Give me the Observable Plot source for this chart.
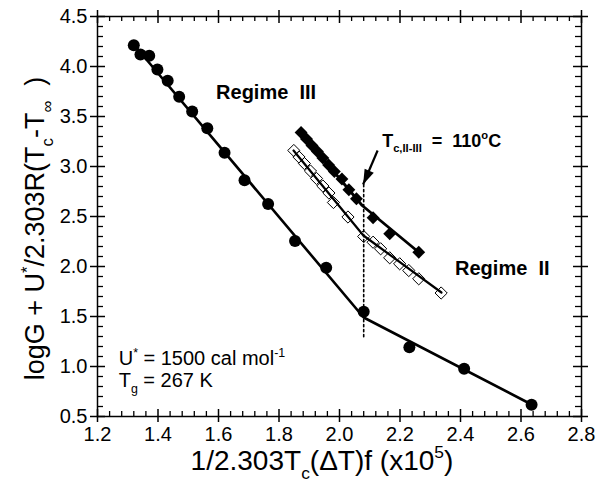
<!DOCTYPE html>
<html><head><meta charset="utf-8">
<script src="https://cdn.jsdelivr.net/npm/d3@7"></script>
<script src="https://cdn.jsdelivr.net/npm/@observablehq/plot@0.6"></script>
<style>body{margin:0;background:#fff}#chart svg{display:block}</style>
</head><body><div id="chart"></div>
<script>
// ---- data ----
const circleX = [1.320,1.342,1.371,1.398,1.432,1.470,1.513,1.563,1.620,1.686,1.764,1.853,1.956,2.080,2.231,2.412,2.635];
const circleY = [4.213,4.120,4.107,3.970,3.857,3.697,3.550,3.383,3.137,2.863,2.625,2.255,1.987,1.547,1.193,0.977,0.617];
const circleFitX = [1.320,2.080,2.635];
const circleFitY = [4.220,1.490,0.620];

const filledX = [1.873,1.891,1.909,1.927,1.945,1.964,1.983,2.008,2.031,2.056,2.111,2.166,2.262];
const filledY = [3.340,3.275,3.210,3.150,3.085,3.015,2.950,2.875,2.767,2.677,2.487,2.327,2.143];
const filledFitX = [1.873,2.075,2.261];
const filledFitY = [3.340,2.610,2.145];

const openX = [1.849,1.866,1.884,1.904,1.924,1.945,1.965,1.980,2.028,2.080,2.111,2.136,2.166,2.199,2.229,2.262,2.336];
const openY = [3.160,3.095,3.030,2.955,2.880,2.805,2.735,2.640,2.495,2.300,2.243,2.177,2.087,2.027,1.960,1.877,1.735];
const openFitX = [1.848,2.079,2.337];
const openFitY = [3.160,2.310,1.740];

const transitionX = [2.08, 2.08];
const transitionY = [2.82, 1.29];
const arrowFrom = [2.126, 3.16];
const arrowTo = [2.078, 2.82];

const xTicks = [1.2,1.4,1.6,1.8,2.0,2.2,2.4,2.6,2.8];
const xTickLabels = ["1.2","1.4","1.6","1.8","2.0","2.2","2.4","2.6","2.8"];
const yTicks = [0.5,1.0,1.5,2.0,2.5,3.0,3.5,4.0,4.5];
const yTickLabels = ["0.5","1.0","1.5","2.0","2.5","3.0","3.5","4.0","4.5"];
const xMinor = d3.range(1.2, 2.8001, 0.04).filter(v => Math.abs(Math.round(v*5) - v*5) > 1e-6);
const yMinor = d3.range(0.5, 4.5001, 0.1).filter(v => Math.abs(Math.round(v*2) - v*2) > 1e-6);

// text annotations (placeholders replaced by rich text below)
const labels = [
  {key:"XL", x:1.942, y:-0.03, size:28, weight:"normal", anchor:"middle", rotate:0,
   parts:[["1/2.303T",""],["c","sub"],["(\u0394T)f (x10",""],["5","sup"],[")",""]]},
  {key:"YL", x:1.023, y:2.38, size:27, weight:"normal", anchor:"middle", rotate:-90,
   parts:[["logG + U",""],["*","sup"],["/2.303R(T",""],["c","sub"],["-T",""],["\u221E","sub"],["\u00A0\u00A0)",""]]},
  {key:"R3", x:1.592, y:3.677, size:20, weight:"bold", anchor:"start", rotate:0,
   parts:[["Regime\u00A0\u00A0III",""]]},
  {key:"R2", x:2.382, y:1.92, size:20, weight:"bold", anchor:"start", rotate:0,
   parts:[["Regime\u00A0\u00A0II",""]]},
  {key:"TC", x:2.141, y:3.20, size:18, weight:"bold", anchor:"start", rotate:0,
   parts:[["T",""],["c,II-III","sub"],["\u00A0\u00A0=\u00A0\u00A0110",""],["o","sup"],["C",""]]},
  {key:"U", x:1.270, y:1.02, size:20, weight:"normal", anchor:"start", rotate:0,
   parts:[["U",""],["*","sup"],[" = 1500 cal mol",""],["-1","sup"]]},
  {key:"TG", x:1.270, y:0.80, size:20, weight:"normal", anchor:"start", rotate:0,
   parts:[["T",""],["g","sub"],[" = 267 K",""]]}
];

const FONT = "'Liberation Sans', Arial, Helvetica, sans-serif";
const arrowHead = {
  draw(ctx, size) { // tip at origin pointing up
    ctx.moveTo(0, 0); ctx.lineTo(5, 15); ctx.lineTo(-5, 15); ctx.closePath();
  }
};

const marks = [
  Plot.frame({stroke:"black", strokeWidth:1.5}),
  // bottom ticks
  Plot.ruleX(xMinor, {x:d=>d, insetTop:395, stroke:"black", strokeWidth:1.3}),
  Plot.ruleX(xTicks, {x:d=>d, insetTop:393, insetBottom:-6, stroke:"black", strokeWidth:1.5}),
  // top ticks
  Plot.ruleX(xMinor, {x:d=>d, insetBottom:395, stroke:"black", strokeWidth:1.3}),
  Plot.ruleX(xTicks, {x:d=>d, insetBottom:393, insetTop:-6, stroke:"black", strokeWidth:1.5}),
  // left ticks
  Plot.ruleY(yMinor, {y:d=>d, insetRight:478, stroke:"black", strokeWidth:1.3}),
  Plot.ruleY(yTicks, {y:d=>d, insetRight:476, insetLeft:-7, stroke:"black", strokeWidth:1.5}),
  // right ticks
  Plot.ruleY(yMinor, {y:d=>d, insetLeft:478, stroke:"black", strokeWidth:1.3}),
  Plot.ruleY(yTicks, {y:d=>d, insetLeft:476, insetRight:-7, stroke:"black", strokeWidth:1.5}),
  // tick labels
  Plot.text(xTicks, {x:d=>d, text:(d,i)=>xTickLabels[i], frameAnchor:"bottom", lineAnchor:"top", dy:10,
    fontSize:20, fontFamily:FONT, fill:"black"}),
  Plot.text(yTicks, {y:d=>d, text:(d,i)=>yTickLabels[i], frameAnchor:"left", textAnchor:"end", lineAnchor:"middle", dx:-10,
    fontSize:20, fontFamily:FONT, fill:"black"}),
  // transition dotted line
  Plot.line(transitionX.map((x,i)=>[x,transitionY[i]]), {x:"0", y:"1", stroke:"black", strokeWidth:1.6, strokeDasharray:"2.2,2.8"}),
  // fitted lines
  Plot.line(circleFitX.map((x,i)=>[x,circleFitY[i]]), {x:"0", y:"1", stroke:"black", strokeWidth:2.6}),
  Plot.line(openFitX.map((x,i)=>[x,openFitY[i]]), {x:"0", y:"1", stroke:"black", strokeWidth:2.2}),
  Plot.line(filledFitX.map((x,i)=>[x,filledFitY[i]]), {x:"0", y:"1", stroke:"black", strokeWidth:2.8}),
  // points
  Plot.dot(circleX.map((x,i)=>[x,circleY[i]]), {x:"0", y:"1", r:6, fill:"black", stroke:"none"}),
  Plot.dot(openX.map((x,i)=>[x,openY[i]]), {x:"0", y:"1", r:5.5, symbol:"diamond2", fill:"none", stroke:"black", strokeWidth:1}),
  Plot.dot(filledX.map((x,i)=>[x,filledY[i]]), {x:"0", y:"1", r:5.8, symbol:"diamond2", fill:"black", stroke:"none"}),
  // arrow
  Plot.link([[arrowFrom, arrowTo]], {x1:d=>d[0][0], y1:d=>d[0][1], x2:d=>d[1][0], y2:d=>d[1][1], stroke:"black", strokeWidth:2.2}),
  Plot.dot([arrowTo], {x:"0", y:"1", symbol:arrowHead, r:5, fill:"black", stroke:"none", rotate:204}),
  // annotations
  ...labels.map(L => Plot.text([L], {x:"x", y:"y", text:d=>"@"+d.key, textAnchor:L.anchor, lineAnchor:"bottom",
    rotate:L.rotate, fontSize:L.size, fontWeight:L.weight, fontFamily:FONT, fill:"black"}))
];

const chart = Plot.plot({
  width:605, height:485,
  marginLeft:97, marginRight:24, marginTop:16, marginBottom:69,
  x:{domain:[1.2,2.8], axis:null},
  y:{domain:[0.5,4.5], axis:null},
  style:{fontFamily:FONT, background:"white"},
  marks
});
document.getElementById("chart").appendChild(chart);

// rich text: sub/superscripts as tspans
const NS = "http://www.w3.org/2000/svg";
d3.select(chart).selectAll("text").each(function() {
  const t = this.textContent;
  if (!t.startsWith("@")) return;
  const L = labels.find(l => "@"+l.key === t);
  if (!L) return;
  this.textContent = "";
  let shift = 0;
  for (const [s, kind] of L.parts) {
    const sp = document.createElementNS(NS, "tspan");
    const target = kind === "sub" ? L.size*0.33 : kind === "sup" ? -L.size*0.40 : 0;
    sp.setAttribute("dy", (target - shift).toFixed(2)); shift = target;
    if (kind) sp.setAttribute("font-size", (L.size*0.62).toFixed(1));
    sp.textContent = s;
    this.appendChild(sp);
  }
});
</script>
</body></html>
